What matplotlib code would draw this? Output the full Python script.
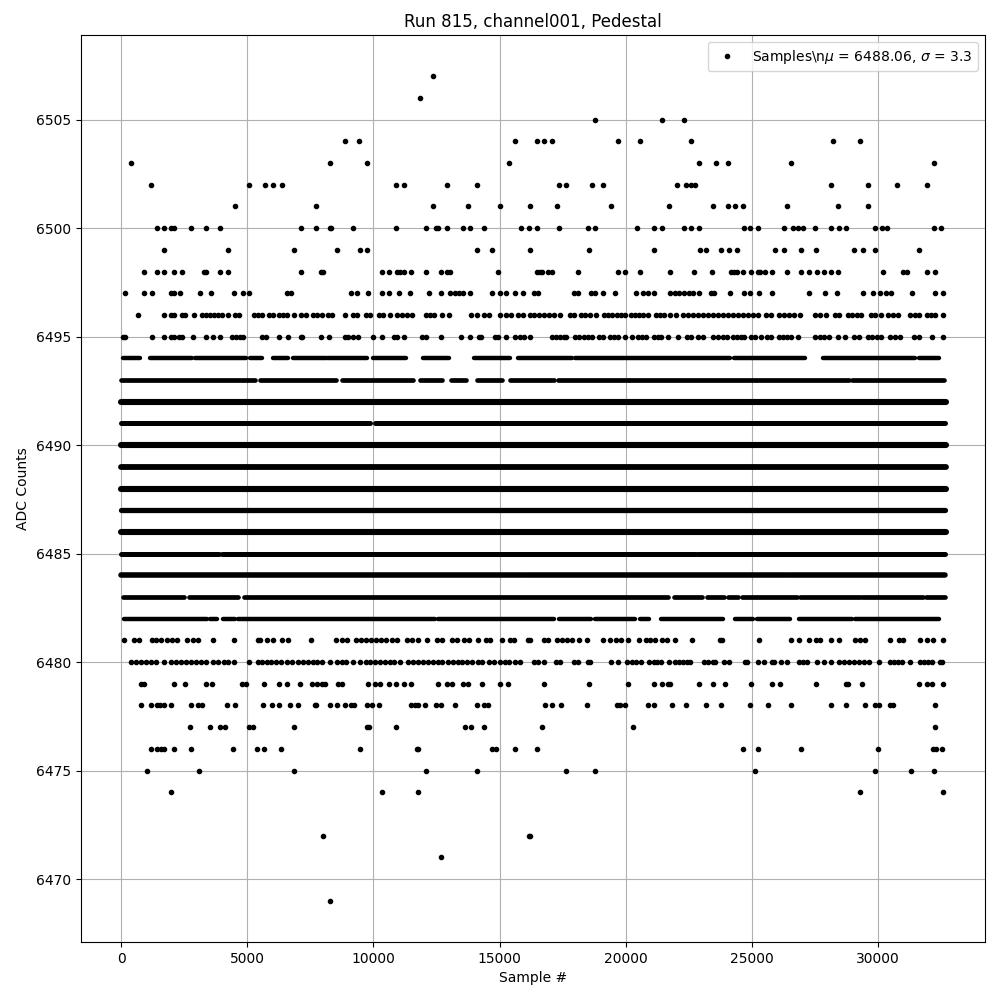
import numpy as np
import matplotlib
matplotlib.use('Agg')
import matplotlib.pyplot as plt

# Sample numbers per ADC level
adc_6507 = [12380]
adc_6506 = [11865]
adc_6505 = [18770, 21428, 22301]
adc_6504 = [8889, 9444, 15595, 16468, 16746, 17063, 19683, 20555, 22579, 28214, 29285]
adc_6503 = [397, 8293, 9762, 15357, 22897, 23571, 24047, 26547, 32222]
adc_6502 = [1190, 5079, 5714, 6032, 6389, 10912, 11230, 12936, 14126, 17341, 17619, 18651, 19087,
            22024, 22381, 22579, 22738, 28135, 29603, 30754, 31944]
adc_6501 = [4524, 7738, 12380, 13769, 15039, 16190, 17262, 19405, 21706, 23452, 24047, 24325, 24643,
            26389, 28412, 29603]
adc_6500 = [1429, 1706, 1984, 2103, 2778, 3373, 3928, 7143, 7738, 8293, 8333, 9206, 10912, 12103,
            12500, 12579, 12936, 13571, 13849, 14404, 15872, 16150, 16468, 17341, 18492, 18770,
            20436, 21111, 21428, 22301, 22579, 22897, 24682, 24920, 25238, 26270, 26627, 26825,
            27023, 27500, 28135, 28452, 28730, 29880, 30158, 30357, 32222, 32500]
adc_6499 = [1706, 4246, 6865, 8571, 9484, 9762, 14126, 14722, 16190, 18532, 21111, 22936, 23174,
            23770, 24087, 24405, 25912, 26270, 26944, 27539, 29047, 29404, 29880, 31626]
adc_6498 = [913, 1429, 1706, 2103, 2420, 3293, 3373, 3928, 4246, 7143, 7936, 8015, 10357, 10635,
            10952, 11071, 11230, 11507, 12103, 12698, 12936, 13055, 14960, 16468, 16587, 16667,
            16905, 17063, 18095, 19683, 19960, 20555, 21746, 22698, 23412, 24166, 24285, 24405,
            24643, 24960, 25238, 25317, 25516, 25793, 26389, 26944, 27261, 27579, 27857, 28135,
            28412, 30198, 30992, 31150, 31944, 32261]
adc_6497 = [159, 913, 1230, 1984, 2103, 2341, 3135, 3571, 4484, 4841, 5079, 6587, 6746, 9127, 9365,
            9801, 10357, 10635, 11031, 11468, 12222, 12698, 13055, 13253, 13412, 13571, 13849,
            14722, 15039, 15277, 15595, 15912, 16349, 16508, 17936, 18095, 18611, 18770, 19087,
            19563, 20397, 20674, 20873, 21111, 21746, 21944, 22103, 22301, 22500, 22658, 22897,
            23373, 23492, 24127, 24682, 24920, 25277, 25793, 27261, 27896, 28373, 29404, 29801,
            30078, 30317, 30515, 31349, 32261, 32579]
adc_6496 = [675, 1706, 1984, 2103, 2420, 2540, 2897, 3214, 3373, 3532, 3690, 3849, 4008, 4246, 4524,
            4682, 5278, 5436, 5595, 5873, 6032, 6270, 6428, 6587, 6865, 7143, 7341, 7619, 7778,
            7976, 8214, 8373, 8889, 9206, 9365, 9722, 9880, 10238, 10397, 10674, 10952, 11150,
            11349, 11547, 12103, 12262, 12420, 12738, 13002, 13888, 14126, 14404, 14603, 15039,
            15277, 15436, 15753, 15912, 16190, 16349, 16548, 16746, 16945, 17143, 17381, 17778,
            17936, 18214, 18373, 18571, 18809, 19127, 19286, 19444, 19643, 19802, 19960, 20198,
            20357, 20516, 20674, 20873, 21190, 21349, 21508, 21746, 21984, 22261, 22460, 22658,
            22857, 23055, 23254, 23452, 23650, 23849, 24047, 24246, 24444, 24643, 24841, 25039,
            25238, 25555, 25754, 26071, 26270, 26468, 26666, 26904, 27500, 27698, 27936, 28293,
            28452, 28809, 28968, 29166, 29325, 29722, 29880, 30118, 30396, 30595, 30793, 31269,
            31468, 31626, 31944, 32103, 32261, 32579]
adc_6495 = [79, 159, 1230, 1706, 1984, 2103, 2301, 2420, 2857, 3373, 3650, 3928, 4405, 4563, 4722,
            4841, 5595, 5754, 6270, 6627, 7143, 7182, 7936, 8253, 8889, 9008, 9206, 9405, 10000,
            10357, 10833, 10952, 11230, 11944, 12103, 12698, 13491, 13849, 14205, 14285, 14841,
            14960, 15277, 15595, 15793, 15952, 16217, 17063, 17222, 17381, 17540, 17619, 17976,
            18135, 18333, 18492, 18651, 18928, 19087, 19365, 19524, 19683, 19960, 20238, 20476,
            20635, 20793, 21111, 21270, 21389, 21666, 22063, 22420, 22579, 22857, 23055, 23452,
            23650, 23849, 24008, 24246, 24405, 24563, 24682, 24960, 25119, 25357, 25595, 25754,
            26071, 26230, 26389, 26547, 26825, 27500, 27698, 27857, 28055, 28412, 28690, 29047,
            29245, 29603, 29761, 29960, 30118, 30476, 30674, 30873, 31428, 31626, 32142, 32579]
adc_6481 = [119, 516, 714, 1204, 1362, 1561, 1799, 1997, 2196, 2619, 2857, 3055, 3637, 4484, 5436,
            5502, 5793, 6032, 6389, 6627, 7539, 8505, 8743, 8941, 9298, 9497, 9695, 9894, 10092,
            10291, 10489, 10727, 10952, 11349, 11547, 11785, 12142, 12512, 12711, 13134, 13306,
            13611, 13809, 14139, 14457, 14629, 15118, 15423, 15581, 16110, 16217, 16773, 16905,
            17275, 17474, 17672, 17870, 18135, 18466, 19087, 19365, 19630, 19815, 20079, 20516,
            20793, 20952, 21151, 21442, 21640, 21944, 22619, 23756, 23822, 25277, 26547, 26865,
            27275, 27565, 27698, 28135, 28452, 29113, 29311, 29483, 30476, 30833, 31005, 31666,
            31957, 32182, 32579]
adc_6480 = [397, 595, 794, 992, 1190, 1389, 1706, 1984, 2182, 2381, 2579, 2778, 2976, 3174, 3373,
            3650, 3849, 4087, 4246, 4484, 5079, 5436, 5568, 5767, 5926, 6124, 6349, 6587, 6785,
            7024, 7222, 7420, 7619, 7778, 7976, 8293, 8571, 8770, 8928, 9206, 9484, 9722, 9880,
            10079, 10277, 10476, 10674, 10833, 11071, 11388, 11587, 11785, 11983, 12182, 12380,
            12579, 12738, 12976, 13174, 13373, 13531, 13730, 13928, 14139, 14325, 14603, 14801,
            15000, 15198, 15396, 15595, 15793, 16349, 16508, 16746, 17222, 17381, 17936, 18095,
            18492, 18571, 19405, 19683, 20040, 20238, 20397, 20595, 20912, 21111, 21230, 21389,
            21706, 21944, 22103, 22261, 22420, 22539, 23095, 23254, 23452, 23531, 23888, 24087,
            24722, 24801, 25238, 25503, 25793, 25873, 26150, 26389, 26865, 27023, 27182, 27579,
            27857, 28135, 28452, 28650, 28848, 29047, 29245, 29444, 29642, 30039, 30476, 30634,
            30793, 30952, 31269, 31666, 31825, 31984, 32143, 32459, 32539]
adc_6479 = [794, 913, 2103, 2540, 3373, 3611, 4801, 4960, 5674, 6270, 6587, 7103, 7566, 7751, 7976,
            8095, 8611, 8770, 9801, 10079, 10277, 10635, 10912, 11230, 11507, 12579, 12936, 13108,
            13571, 13769, 14325, 15039, 15317, 16746, 18532, 20079, 21111, 21428, 21666, 21746,
            22897, 23452, 23928, 24960, 25793, 26111, 27539, 28730, 28809, 29365, 31626, 31944,
            32143, 32579]
adc_6478 = [794, 1190, 1429, 1548, 1706, 1984, 2778, 3055, 3214, 4206, 4524, 5634, 5992, 6270, 6706,
            7024, 7698, 7738, 8293, 8571, 8889, 9127, 9246, 9762, 9960, 10238, 11507, 11666, 11785,
            12063, 12500, 12698, 13253, 14126, 14404, 14563, 16786, 17063, 17421, 18452, 19643,
            19762, 19960, 20873, 21111, 21825, 22381, 23174, 23770, 24920, 25635, 26547, 28135,
            28730, 29483, 29880, 30039, 30476, 30595, 32261]
adc_6477 = [2738, 3532, 3928, 4127, 5079, 5238, 6865, 9762, 9841, 10912, 13650, 13888, 14404, 16667,
            20278, 32261]
adc_6476 = [1190, 1429, 1587, 1706, 2103, 2778, 4444, 5397, 5674, 6349, 9484, 11746, 11785, 14722,
            14880, 15595, 16468, 24643, 25238, 26944, 30000, 32182, 32301, 32539]
adc_6475 = [1032, 3095, 6865, 12103, 14126, 17619, 18770, 25119, 29880, 31309, 32222]
adc_6474 = [1984, 10357, 11785, 29285, 32579]
adc_6472 = [8015, 16150, 16190]
adc_6471 = [12698]
adc_6469 = [8293]

# Levels where the markers merge into bars: (first sample, last sample) of each run
runs_6494 = [(79, 740), (952, 952), (1137, 2791), (2923, 4947), (5105, 5568), (5793, 5793),
             (6032, 6627), (6799, 8148), (8214, 9735), (9801, 9801), (10000, 11296), (11785, 11785),
             (11983, 13015), (13571, 13571), (13994, 15423), (15555, 15555), (15714, 17870),
             (18003, 19921), (19987, 24153), (24285, 27129), (27275, 27275), (27552, 27552),
             (27817, 31494), (31626, 32420), (32618, 32618)]
runs_6493 = [(0, 5290), (5500, 8500), (8756, 11560), (11851, 12711), (13068, 13677), (14100, 15092),
             (15423, 17169), (17315, 20119), (20190, 28849), (28981, 32618)]
runs_6492 = [(0, 32700)]
runs_6491 = [(0, 9866), (10065, 32650)]
runs_6490 = [(0, 32700)]
runs_6489 = [(0, 32700)]
runs_6488 = [(0, 32700)]
runs_6487 = [(0, 32680)]
runs_6486 = [(0, 32700)]
runs_6485 = [(0, 3860), (3990, 22800), (22880, 32680)]
runs_6484 = [(0, 15900), (15960, 26480), (26560, 32680)]
runs_6483 = [(79, 2500), (2700, 4650), (4850, 21700), (21905, 23029), (23227, 23889), (24047, 24444),
             (24616, 26798), (26930, 29285), (29377, 31798), (31891, 32680)]
runs_6482 = [(106, 3386), (3518, 3783), (4021, 4510), (4643, 12447), (12579, 17143), (17341, 18637),
             (18770, 20383), (20582, 20913), (21137, 21137), (21415, 23862), (24060, 24060),
             (24352, 25052), (25211, 26534), (26693, 26693), (26865, 28981), (29113, 32420),
             (32618, 32618)]

points = {6507: adc_6507, 6506: adc_6506, 6505: adc_6505, 6504: adc_6504, 6503: adc_6503,
          6502: adc_6502, 6501: adc_6501, 6500: adc_6500, 6499: adc_6499, 6498: adc_6498,
          6497: adc_6497, 6496: adc_6496, 6495: adc_6495, 6481: adc_6481, 6480: adc_6480,
          6479: adc_6479, 6478: adc_6478, 6477: adc_6477, 6476: adc_6476, 6475: adc_6475,
          6474: adc_6474, 6472: adc_6472, 6471: adc_6471, 6469: adc_6469}
runs = {6494: runs_6494, 6493: runs_6493, 6492: runs_6492, 6491: runs_6491, 6490: runs_6490,
        6489: runs_6489, 6488: runs_6488, 6487: runs_6487, 6486: runs_6486, 6485: runs_6485,
        6484: runs_6484, 6483: runs_6483, 6482: runs_6482}

# bar thickness in points; busy levels look thicker, thin ones have ragged edges
run_width = {6494: 3.2, 6493: 3.4, 6492: 4.4, 6491: 3.6, 6490: 4.4, 6489: 4.2, 6488: 4.4,
             6487: 3.8, 6486: 4.4, 6485: 3.6, 6484: 4.0, 6483: 3.4, 6482: 3.2}

fig, ax = plt.subplots(figsize=(10, 10), dpi=100)

xs = np.concatenate([np.array(v) for v in points.values()])
ys = np.concatenate([np.full(len(v), k) for k, v in points.items()])
ax.plot(xs, ys, 'k.', label='Samples\\n$\\mu$ = 6488.06, $\\sigma$ = 3.3')

for level, spans in runs.items():
    for start, end in spans:
        ax.plot([start, end], [level, level], color='k', lw=run_width[level], solid_capstyle='round')

ax.set_xlim(-1594, 34250)
ax.set_ylim(6467.1, 6508.9)
ax.set_xlabel('Sample #')
ax.set_ylabel('ADC Counts')
ax.set_title('Run 815, channel001, Pedestal')
ax.grid(True)
ax.legend(loc='upper right')
fig.subplots_adjust(left=0.081, right=0.985, top=0.965, bottom=0.058)
plt.savefig('out.png', dpi=100)
